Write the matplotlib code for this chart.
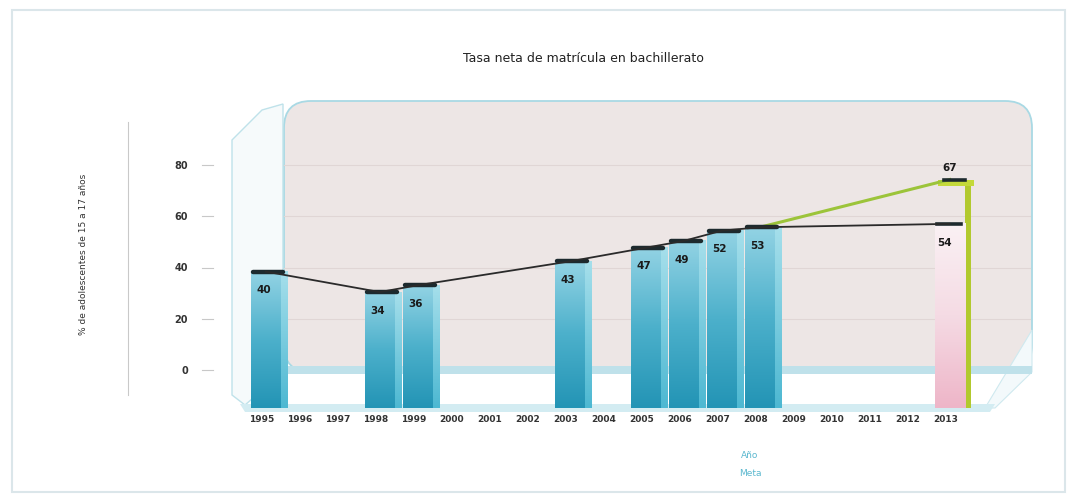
import numpy as np
import matplotlib
matplotlib.use("Agg")
import matplotlib.pyplot as plt
from matplotlib.patches import FancyBboxPatch, Rectangle, Polygon
from matplotlib.colors import LinearSegmentedColormap
import matplotlib.transforms as mtransforms

# ---------------- data ----------------
title = "Tasa neta de matrícula en bachillerato"
ylabel = "% de adolescentes de 15 a 17 años"
years = list(range(1995, 2014))
bar_years = [1995, 1998, 1999, 2003, 2005, 2006, 2007, 2008]
bar_values = [40, 34, 36, 43, 47, 49, 52, 53]
proj_year = 2013
proj_value = 54          # pink bar
meta_years = [2008, 2013]
meta_values = [53, 67]   # green target
yticks = [0, 20, 40, 60, 80]
legend_labels = ["Año", "Meta"]

W, H = 1073, 500
fig = plt.figure(figsize=(W / 100, H / 100), dpi=100)
fig.patch.set_facecolor("white")

def fx(px):
    return px / W

def fy(py):
    return 1 - py / H

# outer frame
fig.patches.append(Rectangle((fx(12), fy(492)), fx(1053), 482 / H, transform=fig.transFigure,
                             fill=False, ec="#dbe6ea", lw=1.5, zorder=0))

# back wall
fig.patches.append(FancyBboxPatch((fx(284), fy(372)), fx(1032 - 284), (372 - 101) / H,
                                  boxstyle="round,pad=0,rounding_size=0.025",
                                  transform=fig.transFigure, fc="#ede6e5", ec="#a9d9e4",
                                  lw=1.3, zorder=0, mutation_aspect=W / H))
# left wall
fig.patches.append(Polygon([[fx(232), fy(140)], [fx(262), fy(110)], [fx(283), fy(104)],
                            [fx(283), fy(372)], [fx(245), fy(405)], [fx(232), fy(395)]],
                           closed=True, transform=fig.transFigure, fc="#f6fafb",
                           ec="#bfe2ea", lw=1.0, zorder=0))
# right side wall hint
fig.patches.append(Polygon([[fx(1032), fy(330)], [fx(1032), fy(372)], [fx(995), fy(408)],
                            [fx(985), fy(408)]],
                           closed=True, transform=fig.transFigure, fc="#f3f9fb",
                           ec="#cfe9ef", lw=0.8, zorder=0))
# floor
fig.patches.append(Polygon([[fx(283), fy(366)], [fx(1032), fy(366)], [fx(1032), fy(374)],
                            [fx(283), fy(374)]],
                           closed=True, transform=fig.transFigure, fc="#bfe1ea",
                           ec="none", zorder=0))
fig.patches.append(Polygon([[fx(240), fy(404)], [fx(995), fy(404)], [fx(990), fy(412)],
                            [fx(245), fy(412)]],
                           closed=True, transform=fig.transFigure, fc="#d3ecf2",
                           ec="none", zorder=0))

# vertical separator line near y label
fig.add_artist(plt.Line2D([fx(128), fx(128)], [fy(395), fy(122)], color="#c9c9c9", lw=0.8))

# ---------------- axes ----------------
ax_l, ax_r, ax_t, ax_b = 242, 1035, 100, 408
rect = [fx(ax_l), fy(ax_b), fx(ax_r - ax_l), (ax_b - ax_t) / H]

# axis carrying the tick scale (3D-offset scale of the original)
ax2 = fig.add_axes(rect, zorder=1)
ax2.patch.set_visible(False)
px_per_unit = (370 - 165) / 80
ax2.set_ylim(-(ax_b - 370) / px_per_unit, (370 - ax_t) / px_per_unit)
ax2.set_xlim(0, 1)
ax2.set_yticks(yticks)
ax2.set_yticklabels([str(v) for v in yticks], fontsize=7, color="#333333", fontweight="bold")
ax2.tick_params(axis="y", length=0, pad=39)
ax2.set_xticks([])
for s in ax2.spines.values():
    s.set_visible(False)
x0g = (284 - ax_l) / (ax_r - ax_l)
x1g = (1030 - ax_l) / (ax_r - ax_l)
trans2 = mtransforms.blended_transform_factory(ax2.transAxes, ax2.transData)
for t in yticks[1:]:
    ax2.plot([x0g, x1g], [t, t], color="#e0d6d5", lw=0.8, transform=trans2, zorder=0)
for t in yticks:
    ax2.plot([-0.05, -0.036], [t, t], color="#c8c8c8", lw=0.8, transform=trans2, clip_on=False)
ax2.set_ylabel(ylabel, fontsize=6.5, color="#333333", labelpad=62)

# bar axis
ax = fig.add_axes(rect, zorder=2)
ax.patch.set_visible(False)
bar_scale = 3.41
xmin = 1995 - (262 - ax_l) / 38.0
xmax = 1995 + (ax_r - 262) / 38.0
ax.set_xlim(xmin, xmax)
ax.set_ylim(0, (ax_b - ax_t) / bar_scale)
for s in ax.spines.values():
    s.set_visible(False)
ax.set_yticks([])
ax.set_xticks(years)
ax.set_xticklabels([str(y) for y in years], fontsize=6.5, color="#333333", fontweight="bold")
ax.tick_params(axis="x", length=0, pad=5)

blue_cmap = LinearSegmentedColormap.from_list("b", ["#2394b5", "#4cb0cb", "#93d3e4"])
side_cmap = LinearSegmentedColormap.from_list("s", ["#4db8d2", "#a6dfeb"])
pink_cmap = LinearSegmentedColormap.from_list("p", ["#eeb5c8", "#f5dbe4", "#faf1f4"])
grad = np.linspace(0, 1, 256).reshape(-1, 1)

off = 0.1
bw = 0.80
side = 0.17

def gradient_bar(xc, h, cmap, z=3):
    xa = xc - bw / 2
    ax.imshow(grad, extent=[xa, xa + bw, 0, h], origin="lower", aspect="auto",
              cmap=cmap, zorder=z, interpolation="bilinear")

for yr, v in zip(bar_years, bar_values):
    xc = yr + off
    gradient_bar(xc, v, blue_cmap)
    ax.imshow(grad, extent=[xc + bw / 2, xc + bw / 2 + side, 0, v], origin="lower",
              aspect="auto", cmap=side_cmap, zorder=3, interpolation="bilinear")
    ax.plot([xc - bw / 2 + 0.05, xc + bw / 2 + 0.05], [v, v], color="#1d2a2e", lw=3.2,
            solid_capstyle="round", zorder=5)
    ax.text(xc - 0.05, v - 5.5, str(v), ha="center", va="center", fontsize=7.5,
            fontweight="bold", color="#1a1a1a", zorder=7)

# projected pink bar and green target
xc = proj_year + off
ax.add_patch(Rectangle((xc + bw / 2, 0), side * 0.9, meta_values[-1], fc="#b2c92e",
                       ec="none", zorder=3))
ax.add_patch(Rectangle((xc - bw / 2 + 0.1, meta_values[-1] - 2.0), bw + side * 0.8, 2.0,
                       fc="#c4d93a", ec="none", zorder=3))
gradient_bar(xc, proj_value, pink_cmap)
ax.plot([xc - bw / 2 + 0.25, xc + bw / 2], [meta_values[-1]] * 2, color="#1d2a2e", lw=2.6,
        zorder=5)
ax.plot([xc - bw / 2 + 0.05, xc + bw / 2 - 0.1], [proj_value] * 2, color="#1d2a2e", lw=2.6,
        zorder=5)
ax.text(xc, meta_values[-1] + 3.5, str(meta_values[-1]), ha="center", va="center",
        fontsize=7.5, fontweight="bold", color="#1a1a1a", zorder=7)
ax.text(xc - 0.15, proj_value - 5.5, str(proj_value), ha="center", va="center",
        fontsize=7.5, fontweight="bold", color="#1a1a1a", zorder=7)

# lines
line_x = [y + off for y in bar_years] + [proj_year + off]
line_y = bar_values + [proj_value]
ax.plot([m + off for m in meta_years], meta_values, color="#9cc43a", lw=2.2, zorder=4)
ax.plot(line_x, line_y, color="#2a2a2a", lw=1.3, zorder=6)

# title and legend-like labels
fig.text(fx(583), fy(58), title, ha="center", va="center", fontsize=9, color="#222222")
fig.text(fx(750), fy(456), legend_labels[0], ha="center", va="center", fontsize=6.5,
         color="#5bb8cf")
fig.text(fx(750), fy(473), legend_labels[1], ha="center", va="center", fontsize=6.5,
         color="#5bb8cf")

fig.savefig("out.png", dpi=100)
